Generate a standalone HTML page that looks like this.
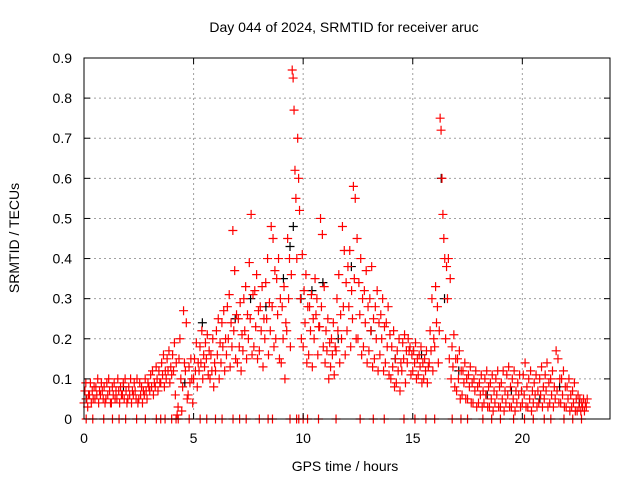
<!DOCTYPE html>
<html><head><meta charset="utf-8"><style>
body{margin:0;background:#fff}
svg{display:block;font-family:"Liberation Sans",sans-serif}
</style></head><body>
<svg id="chart" width="640" height="480">
<text x="344" y="32" font-size="14" text-anchor="middle">Day 044 of 2024, SRMTID for receiver aruc</text>
<text x="345" y="471" font-size="14" text-anchor="middle">GPS time / hours</text>
<text transform="translate(19,238) rotate(-90)" font-size="14" text-anchor="middle">SRMTID / TECUs</text>
<g id="grid"></g><g id="marks"></g><g id="axes"></g>
</svg>
<script>
const xTicks=[0,5,10,15,20];
const yTicks=[0,0.1,0.2,0.3,0.4,0.5,0.6,0.7,0.8,0.9];
const groupStartHours=[0,0.25,0.5,0.75,1,1.25,1.5,1.75,2,2.25,2.5,2.75,3,3.25,3.5,3.75,4,4.25,4.5,4.75,5,5.25,5.5,5.75,6,6.25,6.5,6.75,7,7.25,7.5,7.75,8,8.25,8.5,8.75,9,9.25,9.5,9.75,10,10.25,10.5,10.75,11,11.25,11.5,11.75,12,12.25,12.5,12.75,13,13.25,13.5,13.75,14,14.25,14.5,14.75,15,15.25,15.5,15.75,16,16.25,16.5,16.75,17,17.25,17.5,17.75,18,18.25,18.5,18.75,19,19.25,19.5,19.75,20,20.25,20.5,20.75,21,21.25,21.5,21.75,22,22.25,22.5,22.75];
const srmtidCenti=[[4,7,9,5,3,6],[6,9,4,7,5,8],[5,8,6,10,4,7],[6,9,7,5,8,4],[5,9,6,10,7,4],[4,8,6,9,5,7],[5,10,7,4,8,6],[6,9,5,10,7,4],[5,8,6,10,4,7],[6,9,7,5,10,4],[5,9,6,8,4,7],[6,10,7,5,9,8],[7,11,8,12,6,9],[8,13,10,7,12,9],[9,14,11,16,8,12],[10,15,12,17,9,13],[11,16,12,19,6,14],[1,3,15,20,10,2],[8,27,14,12,24,5],[6,13,9,15,10,4],[10,15,12,19,8,14],[12,18,14,22,10,16],[13,19,15,21,11,17],[10,16,12,20,8,14],[12,22,16,25,10,19],[14,24,18,27,12,20],[16,28,20,31,13,24],[18,47,22,37,15,26],[14,25,18,29,12,21],[17,30,22,33,15,26],[20,39,25,51,16,31],[18,32,23,36,15,27],[17,28,22,33,13,25],[20,34,25,40,16,29],[22,48,28,45,18,37],[20,35,26,40,15,30],[14,28,20,33,10,24],[22,45,30,40,18,36],[87,85,77,62,55,40],[70,60,52,30,20,41],[18,32,24,36,14,28],[16,28,22,31,13,25],[20,35,26,30,16,23],[23,50,28,46,18,33],[14,22,17,25,10,19],[13,20,16,24,11,18],[17,30,22,36,14,26],[20,48,28,42,16,34],[22,38,28,42,18,32],[25,58,35,55,20,45],[20,34,26,40,16,30],[18,32,24,37,14,28],[17,30,22,38,13,25],[15,28,20,32,12,24],[16,26,20,30,12,23],[14,24,18,28,11,21],[10,18,13,22,8,15],[9,17,12,20,7,14],[12,19,15,21,9,17],[14,20,17,18,11,16],[12,17,14,19,10,15],[11,16,13,18,9,14],[10,15,12,17,9,13],[14,22,17,30,12,20],[18,33,24,28,14,22],[75,72,60,51,45,40],[20,38,30,40,15,35],[10,18,13,21,8,15],[7,15,10,17,5,12],[6,12,9,14,5,10],[5,11,8,13,4,9],[4,10,7,12,3,8],[4,9,6,11,3,7],[4,10,6,12,3,8],[3,9,5,11,2,7],[4,10,6,12,3,8],[3,9,5,12,2,7],[4,11,6,13,3,8],[3,10,5,12,2,7],[4,9,6,11,3,7],[4,11,6,14,3,8],[3,10,5,12,2,7],[4,9,6,11,3,7],[4,10,6,13,3,8],[5,11,7,14,3,9],[4,10,6,12,3,8],[5,17,7,15,4,10],[4,10,6,12,3,8],[3,8,5,10,2,6],[3,7,4,9,2,5],[2,6,3,5,2,4],[3,5,2,4,3,5]];
const zeroHours=[0.1,0.4,0.9,1.3,1.6,1.9,2.4,2.8,3.3,3.5,3.7,4.0,4.2,4.3,4.8,5.3,5.6,6.0,6.3,6.8,7.1,7.4,8.0,8.4,8.6,9.4,9.7,9.8,10.0,10.2,10.7,11.5,12.6,13.2,13.7,14.6,15.1,15.6,16.0,16.8,17.2,17.5,18.2,18.6,19.0,19.6,20.1,20.5,21.0,21.3,21.9,22.3,22.7];
const blackHours=[0.1,1.8,4.6,5.4,6.9,7.6,8.3,9.1,9.4,9.55,9.9,10.4,10.9,11.6,12.2,13.1,14.2,15.4,16.3,16.45,17.1,18.4,19.5,20.8,21.7,22.6];
const blackValues=[0.05,0.08,0.09,0.24,0.25,0.3,0.28,0.35,0.43,0.48,0.3,0.32,0.34,0.2,0.38,0.22,0.15,0.16,0.6,0.3,0.12,0.06,0.07,0.05,0.08,0.04];
const NS="http://www.w3.org/2000/svg";
const X0=84,X1=610,Y0=419,Y1=58;
function xs(h){return X0+(X1-X0)*h/24;}
function ys(v){return Y0-(Y0-Y1)*v/0.9;}
function mk(tag,attrs,parent){const e=document.createElementNS(NS,tag);for(const k in attrs)e.setAttribute(k,attrs[k]);parent.appendChild(e);return e;}
const grid=document.getElementById('grid'),marks=document.getElementById('marks'),axes=document.getElementById('axes');
xTicks.forEach(t=>{const x=xs(t);
 const g=mk('line',{x1:x,x2:x,y1:Y1,y2:Y0,stroke:'#a0a0a0','stroke-dasharray':'2,3'},grid);
 
 
 mk('line',{x1:x,x2:x,y1:Y0,y2:Y0-6,stroke:'#000'},axes);
 mk('line',{x1:x,x2:x,y1:Y1,y2:Y1+6,stroke:'#000'},axes);
 const l=mk('text',{x:x,y:443,'font-size':14,'text-anchor':'middle'},axes);l.textContent=t;
 
 });
yTicks.forEach(t=>{const y=ys(t);
 const g=mk('line',{x1:X0,x2:X1,y1:y,y2:y,stroke:'#a0a0a0','stroke-dasharray':'2,3'},grid);
 
 
 mk('line',{x1:X0,x2:X0+6,y1:y,y2:y,stroke:'#000'},axes);
 mk('line',{x1:X1,x2:X1-6,y1:y,y2:y,stroke:'#000'},axes);
 const l=mk('text',{x:72,y:y+5,'font-size':14,'text-anchor':'end'},axes);l.textContent=String(t);
 
 });
const frame=mk('rect',{x:X0,y:Y1,width:X1-X0,height:Y0-Y1,fill:'none',stroke:'#000'},axes);


function plus(h,v,col){const x=xs(h),y=ys(v);
 const p=mk('path',{d:`M${x-4.5},${y}H${x+4.5}M${x},${y-4.5}V${y+4.5}`,stroke:col,'stroke-width':1.2,fill:'none'},marks);
 
 }
blackHours.forEach((h,i)=>plus(h,blackValues[i],'#000'));
groupStartHours.forEach((h,i)=>srmtidCenti[i].forEach((v,k)=>plus(h+k*0.042,v/100,'#f00')));
zeroHours.forEach(h=>plus(h,0,'#f00'));
</script>
</body></html>
